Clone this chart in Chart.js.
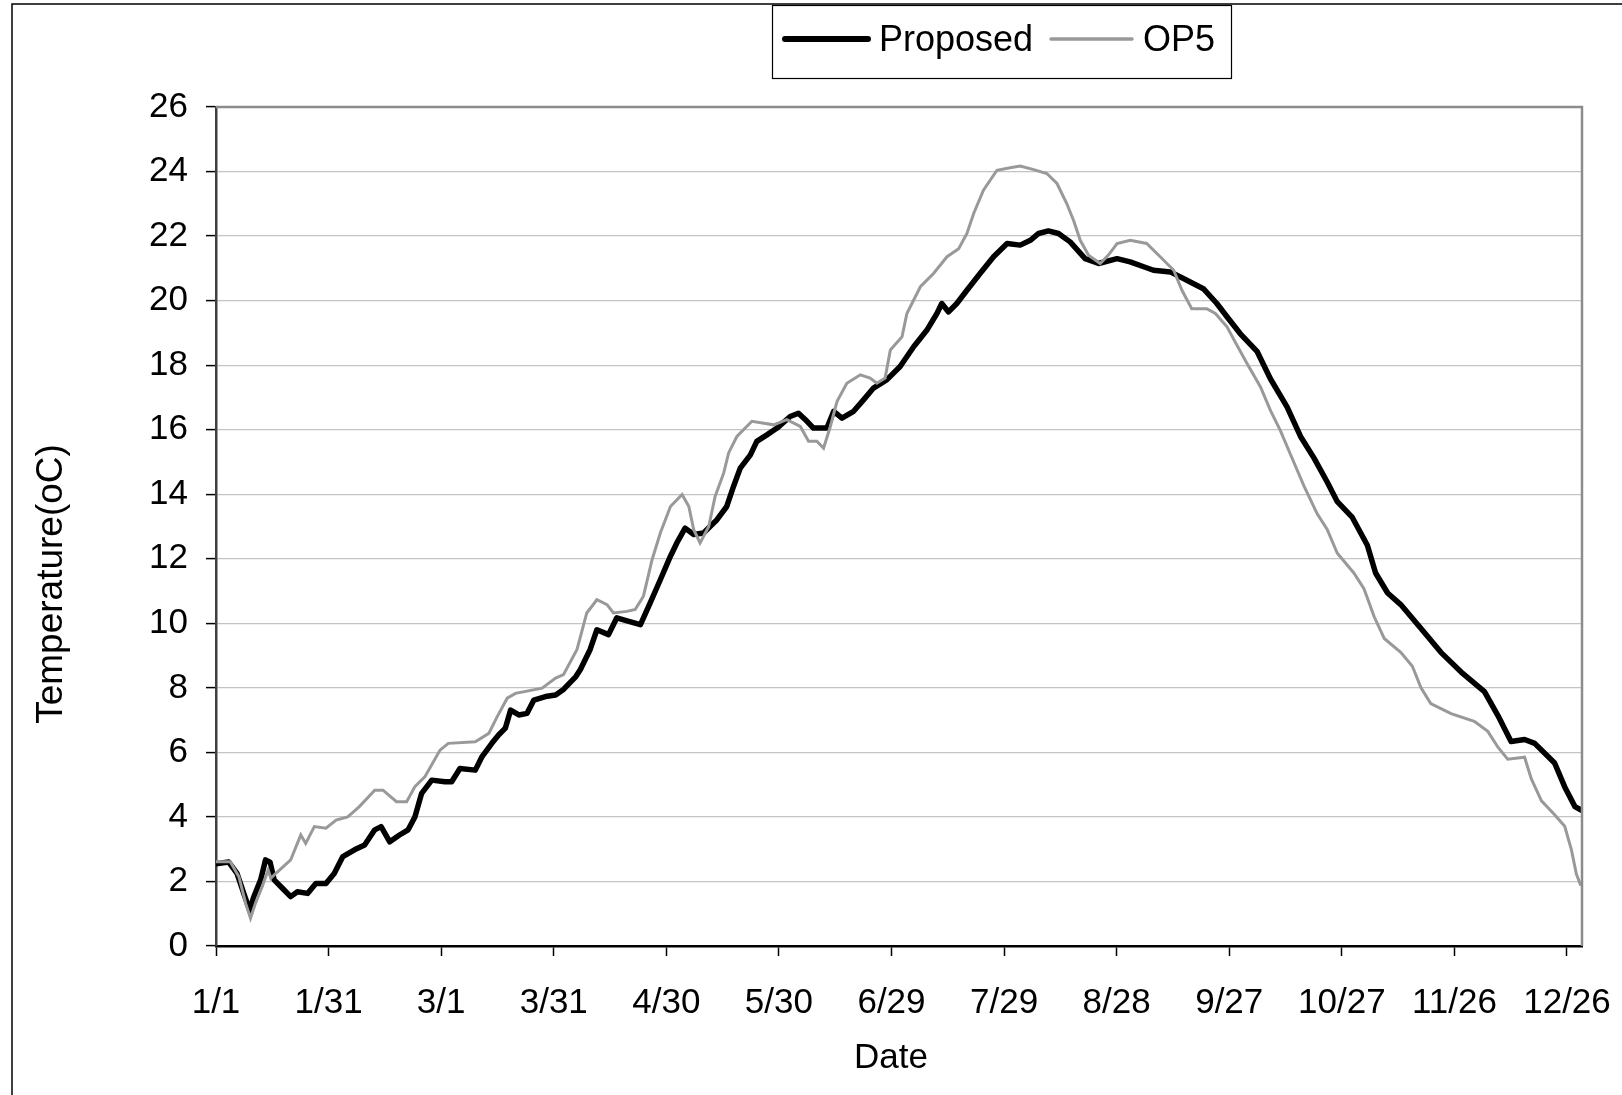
<!DOCTYPE html>
<html>
<head>
<meta charset="utf-8">
<script src="https://cdn.jsdelivr.net/npm/chart.js@4.4.1/dist/chart.umd.min.js"></script>
<style>
  html, body { margin: 0; padding: 0; background: #fff; }
  #wrap { width: 1622px; height: 1095px; }
</style>
</head>
<body>
<div id="wrap"><canvas id="tempChart" width="1622" height="1095"></canvas></div>
<script>
// ===================== data =====================
const tickDays = [0, 30, 60, 90, 120, 150, 180, 210, 240, 270, 300, 330, 360];
const tickLabels = ['1/1', '1/31', '3/1', '3/31', '4/30', '5/30', '6/29', '7/29', '8/28', '9/27', '10/27', '11/26', '12/26'];

const proposedDays = [0, 3.4, 5.6, 7.4, 9, 10, 11.9, 13.2, 14.4, 15.5, 17.7, 19.9, 21.7, 24.4, 26.6, 29.3,
  31.5, 33.8, 36.9, 39.6, 42.3, 44, 46.3, 48.9, 51.2, 53, 54.8, 57.5, 61, 62.8, 65, 69.1, 70.9, 73.5,
  75.3, 77.1, 78.5, 80.7, 82.9, 84.7, 87.8, 90.5, 92.6, 95.9, 97.1, 99.7, 101.5, 104.6, 106.8, 110,
  113.1, 115.7, 118.4, 121.1, 122.8, 125, 127.3, 129.9, 133.5, 136.1, 137.9, 139.7, 142.4, 144.1,
  146.8, 149.5, 153, 155.2, 157.5, 159.2, 162.8, 164.6, 166.8, 169.9, 172.6, 175.2, 178.8, 182.3,
  185.9, 189.4, 192.1, 193.4, 195.2, 197.4, 200.1, 203.6, 207.2, 210.8, 214.3, 217, 219.2, 221.8,
  224.5, 227.6, 231.6, 235.2, 240.1, 243.6, 247.2, 249.8, 254.3, 258.7, 263.1, 266.7, 269.4, 272.9,
  277.4, 281, 285.4, 289, 292.6, 296.1, 298.8, 302.8, 306.8, 309, 312.2, 315.7, 321.1, 326.4, 331.8,
  338, 341.6, 345.1, 348.7, 351.4, 356.7, 359.4, 362.1, 364];
const proposedTemps = [2.55, 2.6, 2.25, 1.63, 1.1, 1.5, 2.05, 2.67, 2.6, 2.05, 1.79, 1.53, 1.68, 1.63, 1.94, 1.94,
  2.25, 2.77, 2.98, 3.13, 3.6, 3.7, 3.23, 3.44, 3.6, 4.0, 4.73, 5.14, 5.09, 5.09, 5.5, 5.45, 5.87, 6.28,
  6.54, 6.75, 7.31, 7.16, 7.21, 7.62, 7.73, 7.78, 7.95, 8.35, 8.57, 9.19, 9.8, 9.65, 10.17, 10.06,
  9.96, 10.63, 11.35, 12.08, 12.49, 12.95, 12.75, 12.8, 13.21, 13.62, 14.24, 14.81, 15.22, 15.64,
  15.84, 16.05, 16.41, 16.51, 16.26, 16.05, 16.05, 16.57, 16.36, 16.57, 16.93, 17.29, 17.55, 17.96,
  18.57, 19.08, 19.6, 19.91, 19.65, 19.91, 20.32, 20.84, 21.36, 21.77, 21.72, 21.87, 22.08, 22.16,
  22.08, 21.82, 21.3, 21.15, 21.3, 21.2, 21.05, 20.94, 20.89, 20.63, 20.37, 19.91, 19.5, 18.98,
  18.43, 17.57, 16.71, 15.79, 15.12, 14.38, 13.77, 13.28, 12.42, 11.56, 10.94, 10.58, 9.84, 9.1, 8.49,
  7.88, 7.14, 6.34, 6.4, 6.28, 5.67, 4.93, 4.32, 4.2];

const op5Days = [0, 3.8, 6.1, 7.9, 9.2, 10.5, 12.3, 13.9, 14.6, 16.4, 19.9, 22.6, 23.9, 26.2, 29.3, 32,
  35.1, 38.2, 42.3, 44.5, 48.1, 50.8, 53, 55.7, 59.7, 61.9, 69.1, 72.7, 74.9, 77.6, 79.8, 86.9, 90.5,
  92.6, 96.2, 98.8, 101.5, 104.2, 105.9, 109.5, 111.7, 113.9, 116.2, 118.4, 121.1, 124.2, 126, 127.3,
  129, 131.3, 133, 135.3, 136.6, 138.8, 142.8, 146, 148.6, 152.1, 155.7, 157.9, 160.1, 161.9, 163.7,
  165.5, 168.1, 171.7, 174.3, 176.1, 178.3, 179.7, 182.8, 184.1, 187.7, 191.2, 194.8, 197.9, 200.1,
  201.9, 204.5, 208.1, 211.6, 214.3, 217.9, 221.4, 224.1, 226.7, 228.5, 230.3, 232.5, 235.6, 237.8,
  240.1, 243.6, 248, 251.6, 255.2, 257.4, 260, 264, 266.3, 269.4, 271.2, 274.7, 278.3, 281, 283.6,
  286.3, 289.9, 293.4, 296.1, 298.8, 303.2, 305.9, 308.6, 311.3, 315.7, 318.8, 321.1, 323.7, 329.1,
  335.3, 338.9, 341.6, 344.2, 348.7, 350.5, 353.2, 356.7, 359.4, 361.2, 362.5, 363.7];
const op5Temps = [2.61, 2.61, 2.15, 1.32, 0.86, 1.32, 1.84, 2.36, 2.1, 2.3, 2.67, 3.44, 3.18, 3.7, 3.65, 3.9,
  4.0, 4.32, 4.83, 4.83, 4.47, 4.47, 4.94, 5.25, 6.07, 6.28, 6.33, 6.59, 7.1, 7.68, 7.83, 7.99, 8.3,
  8.41, 9.19, 10.32, 10.73, 10.58, 10.32, 10.37, 10.43, 10.84, 11.97, 12.8, 13.62, 13.99, 13.62, 12.9,
  12.49, 13.0, 13.93, 14.66, 15.28, 15.79, 16.26, 16.2, 16.15, 16.31, 16.1, 15.64, 15.64, 15.43, 16.1,
  16.88, 17.44, 17.7, 17.6, 17.44, 17.6, 18.47, 18.88, 19.6, 20.43, 20.84, 21.36, 21.61, 22.08,
  22.7, 23.42, 24.04, 24.12, 24.17, 24.06, 23.94, 23.63, 23.01, 22.49, 21.87, 21.41, 21.15, 21.41,
  21.77, 21.87, 21.77, 21.36, 20.94, 20.32, 19.75, 19.75, 19.6, 19.19, 18.8, 18.06, 17.33, 16.59, 15.98,
  15.24, 14.26, 13.4, 12.91, 12.17, 11.56, 11.07, 10.21, 9.53, 9.1, 8.67, 8.0, 7.51, 7.2,
  6.96, 6.65, 6.16, 5.79, 5.85, 5.18, 4.5, 4.07, 3.71, 2.97, 2.23, 1.87];

// ===================== helpers =====================
const FONT = "'Liberation Sans', Arial, sans-serif";
const toPoints = (xs, ys) => xs.map((x, i) => ({ x: x, y: ys[i] }));

// frame, legend box and axis titles, drawn like the Excel original
const decorPlugin = {
  id: 'decor',
  beforeDraw(chart) {
    const ctx = chart.ctx;
    ctx.save();
    ctx.fillStyle = '#fff';
    ctx.fillRect(0, 0, chart.width, chart.height);
    ctx.restore();
  },
  afterDraw(chart) {
    const ctx = chart.ctx;
    const area = chart.chartArea;
    ctx.save();

    // outer chart border (only top and left are inside the picture)
    ctx.strokeStyle = '#000';
    ctx.lineWidth = 1.5;
    ctx.strokeRect(12, 4, chart.width + 50, chart.height + 50);

    // plot area top / right edge
    ctx.strokeStyle = '#8c8c8c';
    ctx.lineWidth = 2.5;
    ctx.beginPath();
    ctx.moveTo(area.left, area.top);
    ctx.lineTo(area.right, area.top);
    ctx.lineTo(area.right, area.bottom);
    ctx.stroke();

    // legend
    ctx.fillStyle = '#fff';
    ctx.fillRect(772, 5, 460, 74);
    ctx.strokeStyle = '#000';
    ctx.lineWidth = 1.2;
    ctx.strokeRect(772.5, 5.5, 459, 73);
    ctx.lineCap = 'round';
    ctx.strokeStyle = '#000';
    ctx.lineWidth = 6;
    ctx.beginPath(); ctx.moveTo(785, 39); ctx.lineTo(868, 39); ctx.stroke();
    ctx.strokeStyle = '#999';
    ctx.lineWidth = 3.5;
    ctx.beginPath(); ctx.moveTo(1051, 39); ctx.lineTo(1132, 39); ctx.stroke();
    ctx.fillStyle = '#000';
    ctx.font = '36px ' + FONT;
    ctx.textAlign = 'left';
    ctx.textBaseline = 'alphabetic';
    ctx.fillText('Proposed', 879, 51);
    ctx.fillText('OP5', 1143, 51);

    // axis titles
    ctx.font = '35px ' + FONT;
    ctx.textAlign = 'center';
    ctx.fillText('Date', 891, 1068);
    ctx.font = '37px ' + FONT;
    ctx.translate(62, 584);
    ctx.rotate(-Math.PI / 2);
    ctx.fillText('Temperature(oC)', 0, 0);
    ctx.restore();
  }
};

// ===================== chart =====================
function renderTempChart() {
  const canvas = document.getElementById('tempChart');
  if (!canvas) return;
  const ctx = canvas.getContext('2d');

  new Chart(ctx, {
    type: 'line',
    data: {
      datasets: [
        {
          label: 'OP5',
          data: toPoints(op5Days, op5Temps),
          borderColor: '#999999',
          borderWidth: 3,
          pointRadius: 0,
          tension: 0,
          order: 0
        },
        {
          label: 'Proposed',
          data: toPoints(proposedDays, proposedTemps),
          borderColor: '#000000',
          borderWidth: 5.5,
          borderJoinStyle: 'round',
          borderCapStyle: 'round',
          pointRadius: 0,
          tension: 0,
          order: 1
        }
      ]
    },
    options: {
      responsive: false,
      animation: false,
      devicePixelRatio: 1,
      layout: { padding: { top: 107, right: 40, left: 0, bottom: 0 } },
      plugins: {
        legend: { display: false },
        tooltip: { enabled: false },
        title: { display: false }
      },
      scales: {
        x: {
          type: 'linear',
          min: 0,
          max: 364,
          afterFit: scale => {
            scale.height = 149;
            scale.paddingLeft = 0;
            scale.paddingRight = 0;
          },
          afterBuildTicks: scale => { scale.ticks = tickDays.map(v => ({ value: v })); },
          grid: { drawOnChartArea: false, drawTicks: true, tickLength: 10, tickColor: '#000', tickWidth: 1.5 },
          border: { color: '#000', width: 2.5 },
          ticks: {
            autoSkip: false,
            maxRotation: 0,
            padding: 26,
            color: '#000',
            font: { family: FONT, size: 35 },
            callback: (value) => {
              const idx = tickDays.indexOf(value);
              return idx === -1 ? '' : tickLabels[idx];
            }
          }
        },
        y: {
          min: 0,
          max: 26,
          afterFit: scale => { scale.width = 216; },
          grid: { color: '#c4c4c4', lineWidth: 1.2, tickLength: 10, tickColor: '#000', tickWidth: 1.5 },
          border: { color: '#404040', width: 2.5 },
          ticks: {
            stepSize: 2,
            padding: 18,
            color: '#000',
            font: { family: FONT, size: 35 }
          }
        }
      }
    },
    plugins: [decorPlugin]
  });
}

document.addEventListener('DOMContentLoaded', () => {
  renderTempChart();
});
</script>
</body>
</html>
